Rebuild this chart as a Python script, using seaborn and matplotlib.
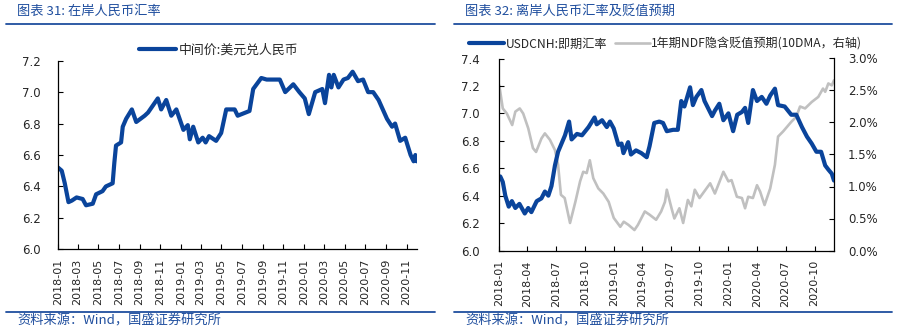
import matplotlib
matplotlib.use('Agg')
import matplotlib.pyplot as plt
import matplotlib.dates as mdates
from matplotlib.ticker import FuncFormatter, MultipleLocator
from matplotlib.lines import Line2D
import seaborn as sns
import pandas as pd

# ---------------- data ----------------
cny_dates = ["2018-01-02", "2018-01-13", "2018-01-22", "2018-02-02", "2018-02-12", "2018-02-26",
             "2018-03-16", "2018-03-26", "2018-04-15", "2018-04-25", "2018-05-14", "2018-05-24",
             "2018-06-13", "2018-06-18", "2018-06-23", "2018-07-08", "2018-07-13", "2018-07-23",
             "2018-08-09", "2018-08-22", "2018-09-16", "2018-09-26", "2018-10-25", "2018-11-04",
             "2018-11-19", "2018-12-04", "2018-12-19", "2019-01-09", "2019-01-22", "2019-01-28",
             "2019-02-07", "2019-02-22", "2019-03-07", "2019-03-16", "2019-03-26", "2019-04-16",
             "2019-05-01", "2019-05-16", "2019-06-10", "2019-06-19", "2019-07-24", "2019-08-04",
             "2019-08-28", "2019-09-13", "2019-10-22", "2019-11-07", "2019-12-01", "2019-12-19",
             "2020-01-04", "2020-01-16", "2020-02-04", "2020-02-25", "2020-03-04", "2020-03-16",
             "2020-03-23", "2020-03-30", "2020-04-13", "2020-04-28", "2020-05-11", "2020-05-25",
             "2020-06-10", "2020-06-25", "2020-07-10", "2020-07-25", "2020-08-10", "2020-09-04",
             "2020-09-19", "2020-09-28", "2020-10-13", "2020-10-28", "2020-11-13", "2020-11-22",
             "2020-11-27", "2020-12-01"]
cny_mid = [6.52, 6.50, 6.42, 6.30, 6.31, 6.33,
           6.32, 6.28, 6.29, 6.35, 6.37, 6.40,
           6.42, 6.55, 6.66, 6.68, 6.78, 6.83,
           6.89, 6.81, 6.85, 6.87, 6.96, 6.89,
           6.95, 6.85, 6.89, 6.76, 6.79, 6.70,
           6.78, 6.68, 6.71, 6.68, 6.72, 6.69,
           6.74, 6.89, 6.89, 6.85, 6.88, 7.02,
           7.09, 7.08, 7.08, 7.00, 7.05, 7.00,
           6.96, 6.86, 7.00, 7.02, 6.93, 7.11,
           7.03, 7.11, 7.03, 7.08, 7.09, 7.13,
           7.07, 7.08, 7.00, 7.00, 6.95, 6.83,
           6.78, 6.80, 6.69, 6.71, 6.60, 6.56,
           6.60, 6.56]

cnh_dates = ["2018-01-05", "2018-01-13", "2018-01-21", "2018-02-01", "2018-02-11", "2018-02-22",
             "2018-03-07", "2018-03-24", "2018-04-04", "2018-04-14", "2018-05-01", "2018-05-16",
             "2018-05-27", "2018-06-07", "2018-06-17", "2018-06-28", "2018-07-08", "2018-07-19",
             "2018-07-30", "2018-08-12", "2018-08-20", "2018-09-06", "2018-09-22", "2018-10-13",
             "2018-11-01", "2018-11-08", "2018-11-25", "2018-12-10", "2018-12-20", "2019-01-01",
             "2019-01-16", "2019-01-26", "2019-02-01", "2019-02-16", "2019-02-25", "2019-03-13",
             "2019-03-30", "2019-04-16", "2019-04-25", "2019-05-10", "2019-05-26", "2019-06-07",
             "2019-06-19", "2019-07-09", "2019-07-24", "2019-08-04", "2019-08-14", "2019-09-01",
             "2019-09-10", "2019-09-21", "2019-10-07", "2019-10-17", "2019-11-10", "2019-11-19",
             "2019-12-03", "2019-12-16", "2020-01-01", "2020-01-16", "2020-01-29", "2020-02-13",
             "2020-02-23", "2020-03-04", "2020-03-19", "2020-04-01", "2020-04-16", "2020-05-01",
             "2020-05-13", "2020-05-28", "2020-06-07", "2020-06-28", "2020-07-19", "2020-08-04",
             "2020-08-22", "2020-09-07", "2020-09-22", "2020-10-07", "2020-10-22", "2020-11-04",
             "2020-11-14", "2020-11-25", "2020-12-02"]
cnh_spot = [6.54, 6.50, 6.40, 6.32, 6.36, 6.31,
            6.34, 6.27, 6.31, 6.28, 6.36, 6.38,
            6.43, 6.40, 6.47, 6.62, 6.72, 6.78,
            6.84, 6.94, 6.81, 6.85, 6.84, 6.90,
            6.97, 6.92, 6.95, 6.90, 6.94, 6.89,
            6.77, 6.78, 6.71, 6.79, 6.70, 6.73,
            6.71, 6.68, 6.76, 6.93, 6.94, 6.93,
            6.87, 6.88, 6.88, 7.09, 7.05, 7.19,
            7.06, 7.12, 7.17, 7.09, 6.98, 7.02,
            7.07, 6.95, 7.00, 6.87, 6.99, 7.01,
            7.04, 6.93, 7.17, 7.09, 7.12, 7.07,
            7.13, 7.18, 7.06, 7.05, 6.99, 6.99,
            6.90, 6.83, 6.78, 6.72, 6.72, 6.62,
            6.59, 6.56, 6.51]

ndf_dates = ["2018-01-02", "2018-01-13", "2018-01-26", "2018-02-12", "2018-02-22", "2018-03-08",
             "2018-03-19", "2018-04-04", "2018-04-19", "2018-04-29", "2018-05-16", "2018-05-27",
             "2018-06-12", "2018-06-28", "2018-07-08", "2018-07-17", "2018-07-29", "2018-08-15",
             "2018-09-01", "2018-09-16", "2018-09-26", "2018-10-07", "2018-10-17", "2018-10-28",
             "2018-11-13", "2018-11-29", "2018-12-16", "2019-01-01", "2019-01-22", "2019-02-02",
             "2019-02-17", "2019-03-08", "2019-03-19", "2019-04-10", "2019-04-25", "2019-05-16",
             "2019-06-01", "2019-06-13", "2019-06-19", "2019-07-04", "2019-07-13", "2019-07-29",
             "2019-08-10", "2019-08-25", "2019-09-05", "2019-09-16", "2019-10-01", "2019-11-04",
             "2019-11-19", "2019-12-16", "2020-01-01", "2020-01-11", "2020-01-28", "2020-02-13",
             "2020-02-23", "2020-03-04", "2020-03-19", "2020-04-01", "2020-04-11", "2020-04-25",
             "2020-05-13", "2020-05-28", "2020-06-07", "2020-06-23", "2020-07-19", "2020-08-04",
             "2020-08-16", "2020-09-01", "2020-09-22", "2020-10-13", "2020-10-28", "2020-11-04",
             "2020-11-14", "2020-11-25", "2020-12-02"]
ndf_pct = [2.58, 2.22, 2.14, 1.96, 2.17, 2.22,
           2.14, 1.91, 1.60, 1.54, 1.75, 1.83,
           1.73, 1.57, 1.34, 0.87, 0.82, 0.43,
           0.76, 1.08, 1.23, 1.21, 1.41, 1.13,
           0.97, 0.89, 0.76, 0.51, 0.37, 0.45,
           0.40, 0.32, 0.40, 0.61, 0.56, 0.48,
           0.61, 0.76, 0.95, 0.66, 0.50, 0.66,
           0.43, 0.79, 0.69, 0.95, 0.82, 1.05,
           0.89, 1.23, 1.08, 1.10, 0.84, 0.82,
           0.66, 0.84, 0.82, 1.02, 0.92, 0.71,
           0.97, 1.34, 1.78, 1.86, 2.01, 2.09,
           2.25, 2.22, 2.32, 2.40, 2.53, 2.48,
           2.61, 2.58, 2.66]

title_left = "图表 31: 在岸人民币汇率"
title_right = "图表 32: 离岸人民币汇率及贬值预期"
legend_left = "中间价:美元兑人民币"
legend_cnh = "USDCNH:即期汇率"
legend_ndf = "1年期NDF隐含贬值预期(10DMA，右轴)"
source_text = "资料来源：Wind，国盛证券研究所"

# ---------------- style ----------------
sns.set_theme(style='white')
plt.rcParams['font.family'] = ['DejaVu Sans', 'Noto Sans CJK SC']
CJK = ['Noto Sans CJK SC', 'DejaVu Sans']
BLUE = '#0A449B'
GRAY = '#C0C0C0'
HEAD = '#1F4E9E'

W, H = 897, 332
fig = plt.figure(figsize=(W / 100, H / 100), dpi=100)

def fx(px):
    return px / W

def fy(py):
    return 1 - py / H

df_l = pd.DataFrame({'date': pd.to_datetime(cny_dates), 'v': cny_mid})
df_c = pd.DataFrame({'date': pd.to_datetime(cnh_dates), 'v': cnh_spot})
df_n = pd.DataFrame({'date': pd.to_datetime(ndf_dates), 'v': ndf_pct})

def style_axis(ax, months):
    ax.set_facecolor('none')
    for s in ['top', 'right']:
        ax.spines[s].set_visible(False)
    for s in ['left', 'bottom']:
        ax.spines[s].set_color('black')
        ax.spines[s].set_linewidth(0.9)
    ax.xaxis.set_major_locator(mdates.MonthLocator(bymonth=months))
    ax.xaxis.set_major_formatter(mdates.DateFormatter('%Y-%m'))
    ax.tick_params(axis='x', direction='in', length=3.5, width=0.8, color='black',
                   labelsize=8, pad=7, labelrotation=90, bottom=True)
    ax.tick_params(axis='y', direction='in', length=3.5, width=0.8, color='black',
                   labelsize=8.5, pad=12, left=True)
    ax.set_xlabel('')
    ax.set_ylabel('')
    ax.grid(False)

# ---------------- left chart ----------------
axl = fig.add_axes([fx(57.7), fy(249.3), fx(417) - fx(57.7), fy(60.7) - fy(249.3)])
sns.lineplot(data=df_l, x='date', y='v', ax=axl, color=BLUE, lw=3.0, legend=False)
axl.set_xlim(pd.Timestamp('2018-01-01'), pd.Timestamp('2020-12-02'))
axl.set_ylim(6.0, 7.2)
axl.yaxis.set_major_locator(MultipleLocator(0.2))
axl.yaxis.set_major_formatter(FuncFormatter(lambda v, _: f'{v:.1f}'))
style_axis(axl, [1, 3, 5, 7, 9, 11])

# ---------------- right chart ----------------
axr = fig.add_axes([fx(499), fy(250.5), fx(834) - fx(499), fy(58.5) - fy(250.5)])
axr2 = axr.twinx()
sns.lineplot(data=df_n, x='date', y='v', ax=axr2, color=GRAY, lw=1.9, legend=False)
sns.lineplot(data=df_c, x='date', y='v', ax=axr, color=BLUE, lw=3.0, legend=False)
axr.set_zorder(axr2.get_zorder() + 1)
axr.set_xlim(pd.Timestamp('2018-01-01'), pd.Timestamp('2020-12-02'))
axr.set_ylim(6.0, 7.4)
axr.yaxis.set_major_locator(MultipleLocator(0.2))
axr.yaxis.set_major_formatter(FuncFormatter(lambda v, _: f'{v:.1f}'))
style_axis(axr, [1, 4, 7, 10])
axr.tick_params(axis='y', pad=14)
axr2.set_ylim(0, 3.0)
axr2.yaxis.set_major_locator(MultipleLocator(0.5))
axr2.yaxis.set_major_formatter(FuncFormatter(lambda v, _: f'{v:.1f}%'))
axr2.set_ylabel('')
axr2.grid(False)
for s in ['top', 'left', 'bottom']:
    axr2.spines[s].set_visible(False)
axr2.spines['right'].set_color('black')
axr2.spines['right'].set_linewidth(0.9)
axr2.tick_params(axis='y', direction='in', length=3.5, width=0.8, color='black',
                 labelsize=8.5, pad=10, right=True)

# ---------------- legends ----------------
hl = [Line2D([], [], color=BLUE, lw=3.0)]
fig.legend(hl, [legend_left], loc='center left', bbox_to_anchor=(fx(139), fy(50)),
           frameon=False, borderpad=0, borderaxespad=0, handlelength=2.9,
           handletextpad=0.2, prop={'family': CJK, 'size': 9.3})

hr = [Line2D([], [], color=BLUE, lw=3.0), Line2D([], [], color=GRAY, lw=1.9)]
fig.legend(hr, [legend_cnh, legend_ndf], loc='center left', bbox_to_anchor=(fx(469), fy(44)),
           ncol=2, frameon=False, borderpad=0, borderaxespad=0, handlelength=2.9,
           handletextpad=0.15, columnspacing=0.6, prop={'family': CJK, 'size': 8.7})

# ---------------- headers & footers ----------------
for x0, x1, title in [(6, 435, title_left), (454, 892, title_right)]:
    fig.add_artist(Line2D([fx(x0), fx(x1)], [fy(24), fy(24)], color=HEAD, lw=1.3,
                          transform=fig.transFigure))
    fig.add_artist(Line2D([fx(x0), fx(x1)], [fy(311.5), fy(311.5)], color=HEAD, lw=1.3,
                          transform=fig.transFigure))
    fig.text(fx(x0 + 11), fy(11), title, color=HEAD, fontsize=9.5, style='italic',
             family=CJK, va='center', ha='left')
    fig.text(fx(x0 + 11), fy(321.5), source_text, color=HEAD, fontsize=9.5, style='italic',
             family=CJK, va='center', ha='left')

fig.savefig('out.png', dpi=100)
